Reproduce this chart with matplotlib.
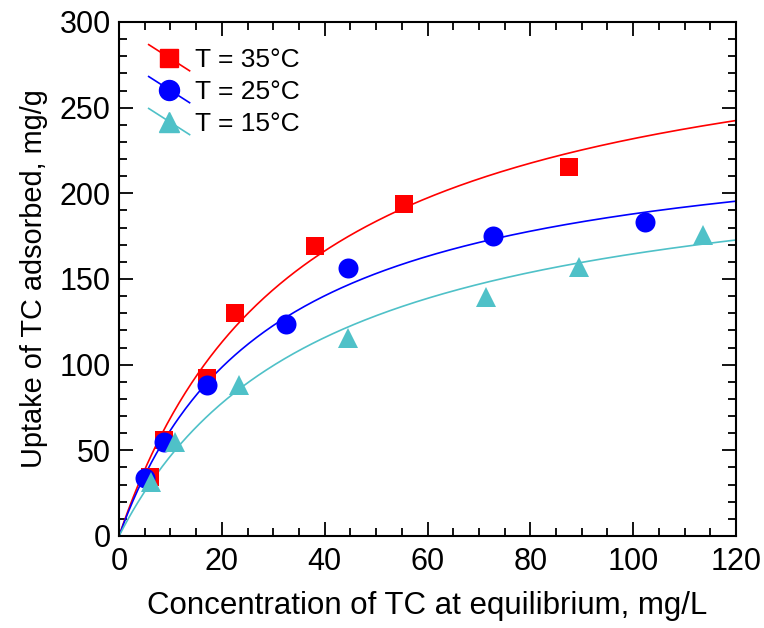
import matplotlib.pyplot as plt
import numpy as np
from matplotlib import font_manager
from matplotlib.legend_handler import HandlerLine2D
from matplotlib.lines import Line2D
from matplotlib.ticker import MultipleLocator

plt.rcParams["font.family"] = ["Liberation Sans", "DejaVu Sans"]

# equilibrium concentration (mg/L) and uptake (mg/g) at each temperature
ce_35 = [6.0, 8.7, 17.1, 22.6, 38.1, 55.4, 87.5]
qe_35 = [34.6, 56.0, 92.4, 130.4, 169.5, 193.6, 215.6]
ce_25 = [5.1, 8.7, 17.2, 32.4, 44.5, 72.7, 102.3]
qe_25 = [33.9, 54.7, 88.0, 123.8, 156.6, 175.3, 183.0]
ce_15 = [6.2, 10.9, 23.3, 44.6, 71.4, 89.5, 113.6]
qe_15 = [31.7, 55.0, 88.0, 115.6, 139.7, 157.2, 175.7]

# Langmuir fit parameters: q_max (mg/g) and K_L (L/mg)
temps = ["35", "25", "15"]
q_max = [314.4, 243.3, 229.0]
k_l = [0.0281, 0.0340, 0.0256]

colors = ["#FF0000", "#0000FF", "#4FC1C8"]
markers = ["s", "o", "^"]
marker_sizes = [12.5, 14.4, 14.0]

names = {f.name for f in font_manager.fontManager.ttflist}
narrow = "Liberation Sans Narrow" if "Liberation Sans Narrow" in names else "Liberation Sans"


class DiagonalLineHandler(HandlerLine2D):
    """Legend entry with the fit line drawn diagonally through the marker."""

    def create_artists(self, legend, orig_handle, xdescent, ydescent,
                       width, height, fontsize, trans):
        x0, x1 = -xdescent, width - xdescent
        cy = height / 2 - ydescent
        dy = 0.32 * width
        line = Line2D([x0, x1], [cy + dy, cy - dy],
                      color=orig_handle.get_color(), lw=orig_handle.get_linewidth())
        mark = Line2D([(x0 + x1) / 2], [cy], linestyle="none",
                      marker=orig_handle.get_marker(),
                      markersize=orig_handle.get_markersize(),
                      markerfacecolor=orig_handle.get_markerfacecolor(),
                      markeredgecolor=orig_handle.get_markeredgecolor())
        line.set_transform(trans)
        mark.set_transform(trans)
        return [line, mark]


fig = plt.figure(figsize=(7.64, 6.28), dpi=100)
ax = fig.add_axes([0.1558, 0.1465, 0.8076, 0.8185])

c_fit = np.linspace(0, 120, 400)
series = [(ce_35, qe_35), (ce_25, qe_25), (ce_15, qe_15)]
handles = []
for i, (ce, qe) in enumerate(series):
    q_fit = q_max[i] * k_l[i] * c_fit / (1 + k_l[i] * c_fit)
    ax.plot(c_fit, q_fit, color=colors[i], lw=1.2, zorder=2)
    ax.plot(ce, qe, linestyle="none", marker=markers[i], ms=marker_sizes[i],
            color=colors[i], markeredgewidth=0, zorder=3)
    handles.append(Line2D([], [], color=colors[i], lw=1.2, marker=markers[i],
                          ms=marker_sizes[i], markeredgewidth=0))

ax.set_xlim(0, 120)
ax.set_ylim(0, 300)
ax.xaxis.set_major_locator(MultipleLocator(20))
ax.xaxis.set_minor_locator(MultipleLocator(5))
ax.yaxis.set_major_locator(MultipleLocator(50))
ax.yaxis.set_minor_locator(MultipleLocator(10))
ax.tick_params(which="both", direction="in", top=True, right=True,
               width=1.3, labelsize=22, colors="black")
ax.tick_params(which="major", length=10)
ax.tick_params(axis="x", which="major", pad=8)
ax.tick_params(axis="y", which="major", pad=6)
ax.tick_params(which="minor", length=6)
for spine in ax.spines.values():
    spine.set_linewidth(1.5)

ax.set_xlabel("Concentration of TC at equilibrium, mg/L", fontsize=22.5, labelpad=10)
ax.set_ylabel("Uptake of TC adsorbed, mg/g", fontsize=20.8, labelpad=8,
              family=[narrow, "DejaVu Sans"])

ax.legend(handles, [f"T = {t}°C" for t in temps], loc="upper left",
          bbox_to_anchor=(0.016, 0.988), frameon=False, fontsize=19,
          handlelength=1.55, handletextpad=0.2, labelspacing=0.3,
          borderaxespad=0.35, handler_map={Line2D: DiagonalLineHandler()})

fig.savefig("out.png", dpi=100)
